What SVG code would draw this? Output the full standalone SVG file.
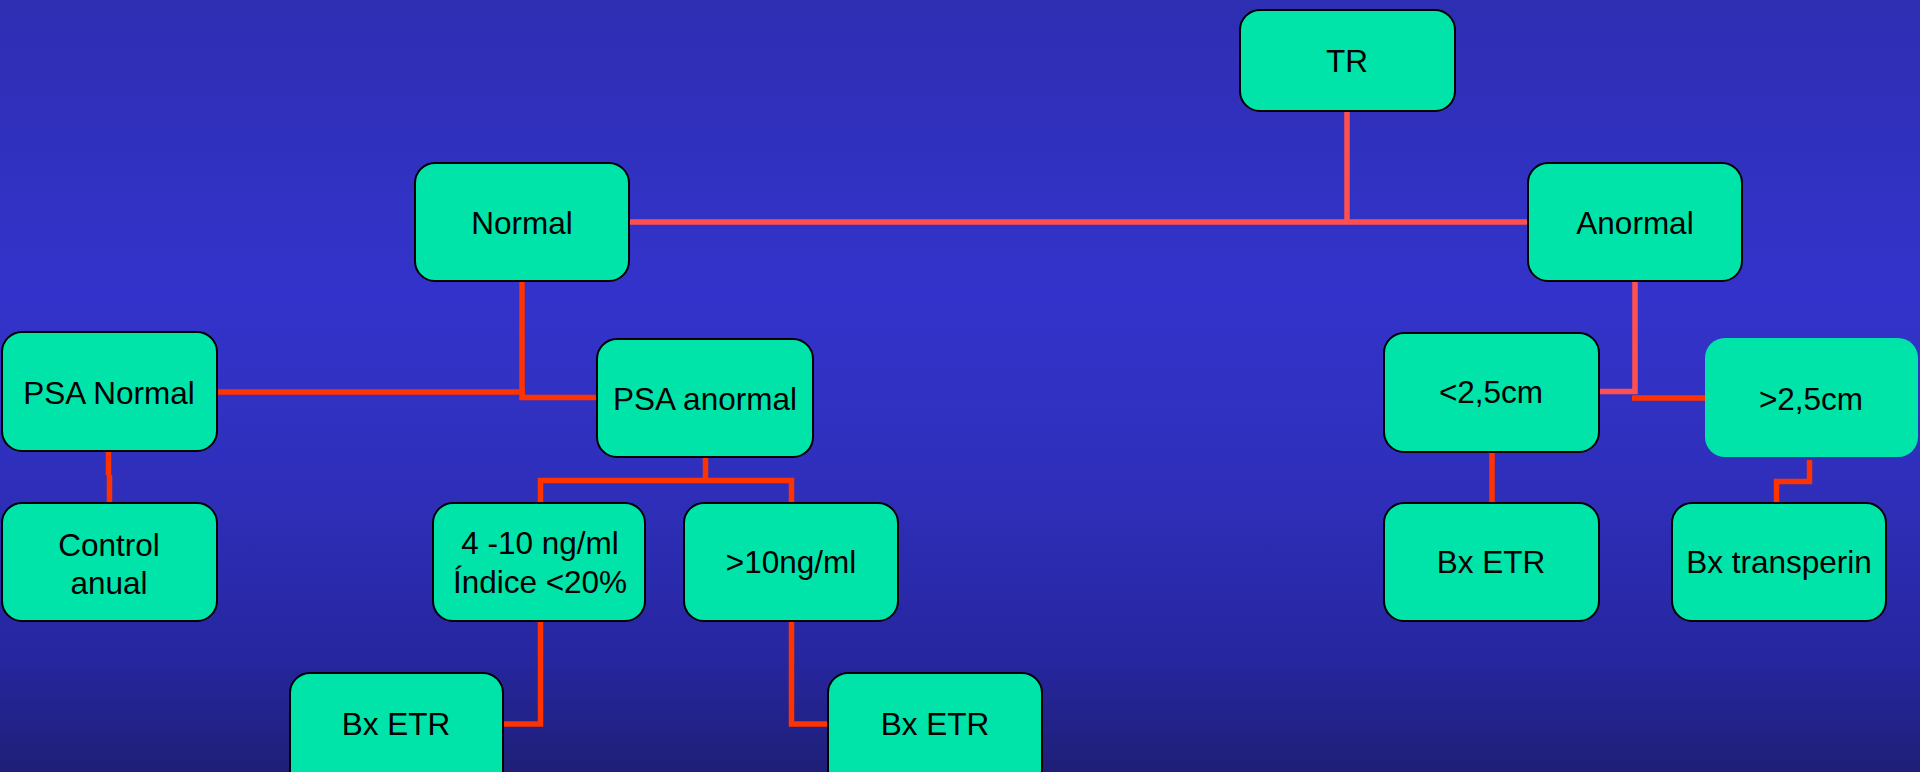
<svg xmlns="http://www.w3.org/2000/svg" width="1920" height="772" viewBox="0 0 1920 772">
<defs>
<linearGradient id="bg" x1="0" y1="0" x2="0" y2="1">
<stop offset="0" stop-color="#2E2EB3"/>
<stop offset="0.38" stop-color="#3333CB"/>
<stop offset="0.62" stop-color="#2F2FBC"/>
<stop offset="0.85" stop-color="#2626A0"/>
<stop offset="1" stop-color="#1F1F78"/>
</linearGradient>
<style>
.box{fill:#00E4AA;stroke:#000;stroke-width:2}
.nob{fill:#00E4AA;stroke:none}
.t{font-family:"Liberation Sans",Arial,sans-serif;font-size:31.5px;fill:#000;text-anchor:middle}
.s{fill:none;stroke:#FF5050;stroke-width:5.5}
.r{fill:none;stroke:#FF3300;stroke-width:5.5}
</style>
</defs>
<rect x="0" y="0" width="1920" height="772" fill="url(#bg)"/>
<g id="connectors">
<path class="s" d="M1347,111 V222"/>
<path class="s" d="M629,222 H1528"/>
<path class="s" d="M1635,281 V391.5 H1599"/>
<path class="r" d="M1632,398 H1705"/>
<path class="r" d="M522,281 V397.5 H597"/>
<path class="r" d="M217,392 H525"/>
<path class="r" d="M108.5,451 V475 M109.5,475 V503"/>
<path class="r" d="M705.5,457 V480.5"/>
<path class="r" d="M540.5,503 V480.5 H791.5 V503"/>
<path class="r" d="M540.5,621 V724 H503"/>
<path class="r" d="M791.5,621 V724 H828"/>
<path class="r" d="M1492,452 V503"/>
<path class="r" d="M1809.5,460 V481.5 H1776.5 V503"/>
</g>
<g id="n-tr"><rect class="box" x="1240" y="10" width="215" height="101" rx="20"/><text class="t" x="1347" y="72">TR</text></g>
<g id="n-normal"><rect class="box" x="415" y="163" width="214" height="118" rx="20"/><text class="t" x="522" y="234">Normal</text></g>
<g id="n-anormal"><rect class="box" x="1528" y="163" width="214" height="118" rx="20"/><text class="t" x="1635" y="234">Anormal</text></g>
<g id="n-psanormal"><rect class="box" x="2" y="332" width="215" height="119" rx="20"/><text class="t" x="109" y="404">PSA Normal</text></g>
<g id="n-psaanormal"><rect class="box" x="597" y="339" width="216" height="118" rx="20"/><text class="t" x="705" y="410">PSA anormal</text></g>
<g id="n-control"><rect class="box" x="2" y="503" width="215" height="118" rx="20"/><text class="t" x="109" y="556">Control</text><text class="t" x="109" y="594">anual</text></g>
<g id="n-4-10"><rect class="box" x="433" y="503" width="212" height="118" rx="20"/><text class="t" x="540" y="554">4 -10 ng/ml</text><text class="t" x="540" y="593">Índice &lt;20%</text></g>
<g id="n-10"><rect class="box" x="684" y="503" width="214" height="118" rx="20"/><text class="t" x="791" y="573">&gt;10ng/ml</text></g>
<g id="n-bx1"><rect class="box" x="290" y="673" width="213" height="118" rx="20"/><text class="t" x="396" y="735">Bx ETR</text></g>
<g id="n-bx2"><rect class="box" x="828" y="673" width="214" height="118" rx="20"/><text class="t" x="935" y="735">Bx ETR</text></g>
<g id="n-lt25"><rect class="box" x="1384" y="333" width="215" height="119" rx="20"/><text class="t" x="1491" y="403">&lt;2,5cm</text></g>
<g id="n-gt25"><rect class="nob" x="1705" y="338" width="213" height="119" rx="20"/><text class="t" x="1811" y="410">&gt;2,5cm</text></g>
<g id="n-bx3"><rect class="box" x="1384" y="503" width="215" height="118" rx="20"/><text class="t" x="1491" y="573">Bx ETR</text></g>
<g id="n-bxtp"><rect class="box" x="1672" y="503" width="214" height="118" rx="20"/><text class="t" x="1779" y="573">Bx transperin</text></g>
</svg>
